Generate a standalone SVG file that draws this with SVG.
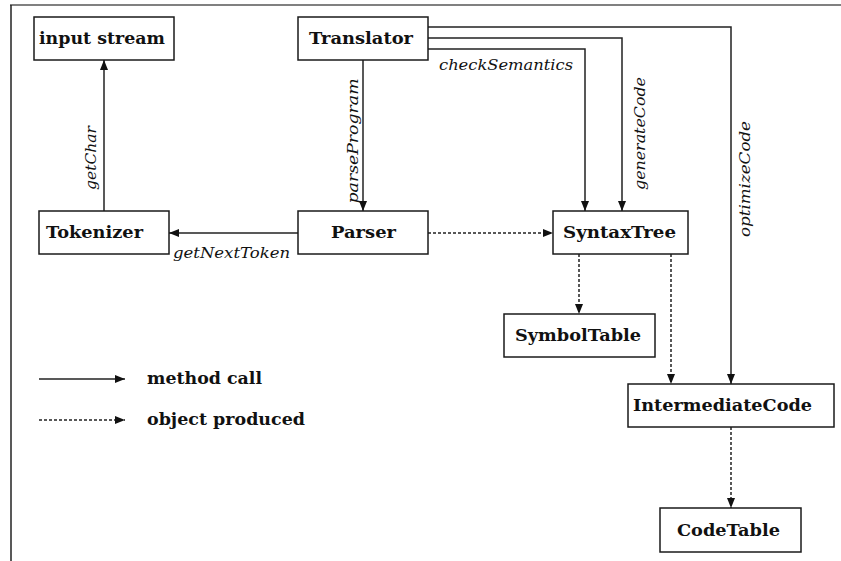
<svg xmlns="http://www.w3.org/2000/svg" width="841" height="561" viewBox="0 0 841 561">
  <style>
    .box { fill: #fff; stroke: #1a1a1a; stroke-width: 1.5; }
    .name { font-family: "DejaVu Serif", "Liberation Serif", serif; font-weight: bold; font-size: 16.5px; fill: #111; }
    .call { font-family: "DejaVu Serif", "Liberation Serif", serif; font-style: italic; font-size: 15.5px; fill: #111; }
    .solid { fill: none; stroke: #222; stroke-width: 1.5; marker-end: url(#head); }
    .dotted { fill: none; stroke: #222; stroke-width: 1.5; stroke-dasharray: 3 2; marker-end: url(#head); }
  </style>
  <defs>
    <marker id="head" markerUnits="userSpaceOnUse" markerWidth="11" markerHeight="9" refX="10" refY="4" orient="auto">
      <path d="M0,0 L10,4 L0,8 z" fill="#111"/>
    </marker>
  </defs>

  <rect x="0" y="0" width="841" height="561" fill="#fff"/>
  <!-- frame -->
  <line x1="10" y1="5" x2="841" y2="5" stroke="#808080" stroke-width="2"/>
  <line x1="11" y1="5" x2="11" y2="561" stroke="#222" stroke-width="1.5"/>

  <g id="connectors">
    <path class="solid" d="M104,211 V60"/>
    <path class="solid" d="M363,60 V211"/>
    <path class="solid" d="M298,233 H169"/>
    <path class="dotted" d="M428,233 H553"/>
    <path class="solid" d="M428,49 H585 V211"/>
    <path class="solid" d="M428,38 H622 V211"/>
    <path class="solid" d="M428,27 H731 V384"/>
    <path class="dotted" d="M579,254 V314"/>
    <path class="dotted" d="M671,254 V384"/>
    <path class="dotted" d="M731,427 V508"/>

    <text class="call" text-anchor="middle" transform="translate(96,158) rotate(-90)" textLength="64" lengthAdjust="spacingAndGlyphs">getChar</text>
    <text class="call" text-anchor="middle" transform="translate(358,141) rotate(-90)" textLength="125" lengthAdjust="spacingAndGlyphs">parseProgram</text>
    <text class="call" x="173" y="258" textLength="117" lengthAdjust="spacingAndGlyphs">getNextToken</text>
    <text class="call" x="439" y="70" textLength="134" lengthAdjust="spacingAndGlyphs">checkSemantics</text>
    <text class="call" text-anchor="middle" transform="translate(645,133.5) rotate(-90)" textLength="113" lengthAdjust="spacingAndGlyphs">generateCode</text>
    <text class="call" text-anchor="middle" transform="translate(750,179) rotate(-90)" textLength="116" lengthAdjust="spacingAndGlyphs">optimizeCode</text>
  </g>

  <g id="input-stream">
    <rect class="box" x="34" y="17" width="140" height="43"/>
    <text class="name" x="39" y="44" textLength="126" lengthAdjust="spacingAndGlyphs">input stream</text>
  </g>
  <g id="translator">
    <rect class="box" x="298" y="17" width="130" height="43"/>
    <text class="name" x="309" y="44" textLength="104" lengthAdjust="spacingAndGlyphs">Translator</text>
  </g>
  <g id="tokenizer">
    <rect class="box" x="39" y="211" width="130" height="43"/>
    <text class="name" x="46" y="238" textLength="97" lengthAdjust="spacingAndGlyphs">Tokenizer</text>
  </g>
  <g id="parser">
    <rect class="box" x="298" y="211" width="130" height="43"/>
    <text class="name" x="331" y="238" textLength="65" lengthAdjust="spacingAndGlyphs">Parser</text>
  </g>
  <g id="syntax-tree">
    <rect class="box" x="553" y="211" width="135" height="43"/>
    <text class="name" x="563" y="238" textLength="113" lengthAdjust="spacingAndGlyphs">SyntaxTree</text>
  </g>
  <g id="symbol-table">
    <rect class="box" x="504" y="314" width="151" height="43"/>
    <text class="name" x="515" y="341" textLength="126" lengthAdjust="spacingAndGlyphs">SymbolTable</text>
  </g>
  <g id="intermediate-code">
    <rect class="box" x="628" y="384" width="206" height="43"/>
    <text class="name" x="633" y="411" textLength="179" lengthAdjust="spacingAndGlyphs">IntermediateCode</text>
  </g>
  <g id="code-table">
    <rect class="box" x="660" y="508" width="141" height="44"/>
    <text class="name" x="677" y="536" textLength="103" lengthAdjust="spacingAndGlyphs">CodeTable</text>
  </g>

  <g id="legend">
    <path class="solid" d="M39,379 H125"/>
    <path class="dotted" d="M39,420 H125"/>
    <text class="name" x="147" y="384" textLength="115" lengthAdjust="spacingAndGlyphs">method call</text>
    <text class="name" x="147" y="425" textLength="158" lengthAdjust="spacingAndGlyphs">object produced</text>
  </g>
</svg>
